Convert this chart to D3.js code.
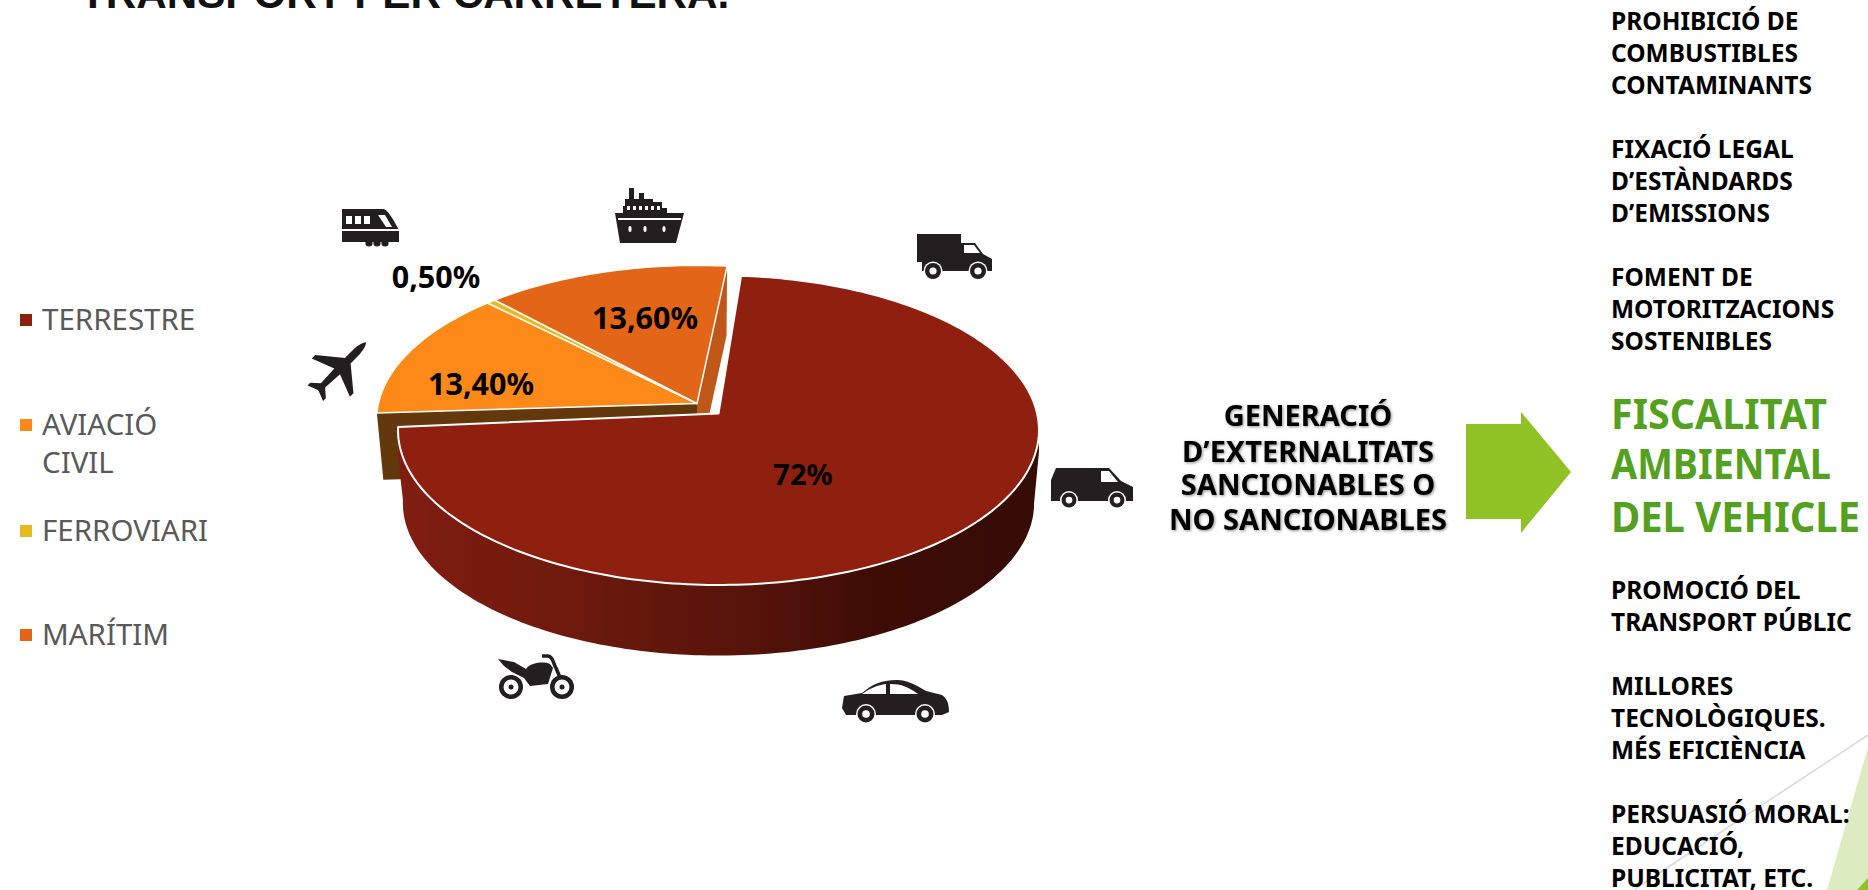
<!DOCTYPE html>
<html>
<head>
<meta charset="utf-8">
<script src="https://cdn.jsdelivr.net/npm/d3@7"></script>
<style>
  html, body { margin: 0; padding: 0; background: #fff; overflow: hidden; }
  svg { display: block; }
  text { font-family: "Noto Sans", sans-serif; }
</style>
</head>
<body>
<div id="chart"></div>
<script>
// Chart values
const categories = ["TERRESTRE", "AVIACIÓ CIVIL", "FERROVIARI", "MARÍTIM"];
const shares     = [72, 13.4, 0.5, 13.6];
const shareTexts = ["72%", "13,40%", "0,50%", "13,60%"];
const colors     = ["#8f2010", "#fd8a18", "#e6b91e", "#e36518"];

const title       = "TRANSPORT PER CARRETERA.";
const middleLines = ["GENERACIÓ", "D’EXTERNALITATS", "SANCIONABLES O", "NO SANCIONABLES"];
const greenLines  = ["FISCALITAT", "AMBIENTAL", "DEL VEHICLE"];
const topMeasures = ["PROHIBICIÓ DE", "COMBUSTIBLES", "CONTAMINANTS", "", "FIXACIÓ LEGAL", "D’ESTÀNDARDS", "D’EMISSIONS", "", "FOMENT DE", "MOTORITZACIONS", "SOSTENIBLES"];
const lowMeasures = ["PROMOCIÓ DEL", "TRANSPORT PÚBLIC", "", "MILLORES", "TECNOLÒGIQUES.", "MÉS EFICIÈNCIA", "", "PERSUASIÓ MORAL:", "EDUCACIÓ,", "PUBLICITAT, ETC."];

// Layout
const config = {
  width     : 1868,
  height    : 890,
  slantX    : 318.6,   // half width of the disc
  slantY    : 153,     // half depth of the disc at its centre line
  persp     : 0.1077,  // how much the far rim shrinks
  startDeg  : 4.5,
  restTurn  : 1.5,     // the three small slices are turned a bit more
  redCentre : [718.5, 413.5],
  restCentre: [697, 403.5],
  redDepth  : 73.5,
  restDepth : 67,
  baseScale : 0.985,
  ink       : "#231f20"
};
const labelSpots   = [[803, 485], [481, 395], [436, 288], [645, 329]];
const labelSizes   = [29, 30.5, 30.5, 30.5];
const legendBase   = [330, 435, 541, 645];
const legendExtra  = { 1: 473 };
const greenWidths  = [216, 220, 249];

const svg = d3.select("#chart")
  .append("svg")
    .attr("width", config.width)
    .attr("height", config.height)
    .attr("viewBox", "0 0 " + config.width + " " + config.height);

const defs = svg.append("defs");
const wallGradient = defs.append("linearGradient")
  .attr("id", "wall")
  .attr("gradientUnits", "userSpaceOnUse")
  .attr("x1", 400).attr("x2", 1038).attr("y1", 0).attr("y2", 0);
[[0, "#801d11"], [0.3, "#6b190c"], [0.55, "#56130a"], [0.75, "#3d0c05"], [1, "#360c06"]].forEach(function (s) {
  wallGradient.append("stop").attr("offset", s[0]).attr("stop-color", s[1]);
});

// Perspective view of a flat disc: angle clockwise from the far side, r in 0..1
function project(centre, angle, r, drop) {
  const u = r * Math.sin(angle);
  const v = -r * Math.cos(angle);
  const w = 1 - config.persp * v;
  return [
    centre[0] + config.slantX * u / w,
    centre[1] + config.slantY * v / w + (drop || 0)
  ];
}

function rim(centre, a0, a1, r, drop) {
  const n = Math.max(2, Math.ceil(Math.abs(a1 - a0) / 0.02));
  return d3.range(n + 1).map(function (i) {
    return project(centre, a0 + (a1 - a0) * i / n, r, drop);
  });
}

const rad  = Math.PI / 180;
const line = d3.line();
const arcs = d3.pie().sort(null)
  .startAngle(config.startDeg * rad)
  .endAngle((config.startDeg + 360) * rad)(shares);

// Back slices: cut faces first, then tops
const rest = arcs.slice(1).map(function (d) {
  return { index: d.index, a0: d.startAngle + config.restTurn * rad, a1: d.endAngle + config.restTurn * rad };
});
const first = rest[0], last = rest[rest.length - 1];

function cutFace(angle, fill) {
  const c = config.restCentre, dz = config.restDepth, s = 0.98;
  svg.append("path")
    .attr("d", line([project(c, angle, 1), project(c, angle, 0), project(c, angle, 0, dz), project(c, angle, s, dz)]) + "Z")
    .attr("fill", fill);
}
cutFace(first.a0, "#63380c");
cutFace(last.a1, "#bf5718");

svg.selectAll(".rest")
  .data(rest)
  .enter()
  .append("path")
    .attr("class", "rest")
    .attr("d", function (d) {
      return line([project(config.restCentre, 0, 0)].concat(rim(config.restCentre, d.a0, d.a1, 1))) + "Z";
    })
    .attr("fill", function (d) { return colors[d.index]; })
    .attr("stroke", "#fff")
    .attr("stroke-width", 1.5)
    .attr("stroke-linejoin", "round");

// The exploded big slice; its wall runs straight down a little before narrowing
const big = arcs[0];
const wallFrom = 96 * rad;
const wallTop = rim(config.redCentre, wallFrom, big.endAngle, 1);
const wallLow = rim(config.redCentre, wallFrom, big.endAngle, config.baseScale, config.redDepth).reverse();
svg.append("path")
  .attr("d", line(wallTop
    .concat([project(config.redCentre, big.endAngle, 1, 30)])
    .concat(wallLow)
    .concat([project(config.redCentre, wallFrom, 1, 22)])) + "Z")
  .attr("fill", "url(#wall)");

svg.append("path")
  .attr("d", line([project(config.redCentre, 0, 0)].concat(rim(config.redCentre, big.startAngle, big.endAngle, 1))) + "Z")
  .attr("fill", colors[0])
  .attr("stroke", "#fff")
  .attr("stroke-width", 2)
  .attr("stroke-linejoin", "round");

// Share labels
svg.selectAll(".share")
  .data(shareTexts)
  .enter()
  .append("text")
    .attr("class", "share")
    .attr("x", function (d, i) { return labelSpots[i][0]; })
    .attr("y", function (d, i) { return labelSpots[i][1]; })
    .attr("text-anchor", "middle")
    .attr("font-size", function (d, i) { return labelSizes[i]; })
    .attr("font-weight", 700)
    .attr("fill", "#000")
    .text(function (d) { return d; });

// Legend
const legend = svg.selectAll(".legend")
  .data(categories)
  .enter()
  .append("g")
    .attr("class", "legend");
legend.append("rect")
  .attr("x", 20)
  .attr("y", function (d, i) { return legendBase[i] - 16; })
  .attr("width", 12)
  .attr("height", 12)
  .attr("fill", function (d, i) { return colors[i]; });
legend.append("text")
  .attr("x", 42)
  .attr("y", function (d, i) { return legendBase[i]; })
  .attr("font-size", 29.5)
  .attr("fill", "#595959")
  .text(function (d, i) { return legendExtra[i] ? d.split(" ")[0] : d; });
legend.filter(function (d, i) { return legendExtra[i]; })
  .append("text")
  .attr("x", 42)
  .attr("y", legendExtra[1])
  .attr("font-size", 29.5)
  .attr("fill", "#595959")
  .text(function (d) { return d.split(" ")[1]; });

// Title, cut by the top of the page
svg.append("text")
  .attr("x", 80)
  .attr("y", 8)
  .attr("font-size", 42.2)
  .attr("font-weight", 700)
  .attr("fill", "#111")
  .style("font-family", "'Liberation Sans', sans-serif")
  .text(title);

// Middle text and arrow
svg.selectAll(".middle")
  .data(middleLines)
  .enter()
  .append("text")
    .attr("class", "middle")
    .attr("x", 1308)
    .attr("y", function (d, i) { return [426, 462, 495, 530][i]; })
    .attr("text-anchor", "middle")
    .attr("font-size", 29)
    .attr("font-weight", 700)
    .attr("fill", "#000")
    .style("filter", "drop-shadow(1.5px 1.5px 1.5px rgba(0,0,0,0.45))")
    .text(function (d) { return d; });

svg.append("path")
  .attr("d", "M1466 424H1521V412L1571 472L1521 533V519H1466Z")
  .attr("fill", "#90c226");

svg.selectAll(".green")
  .data(greenLines)
  .enter()
  .append("text")
    .attr("class", "green")
    .attr("x", 1611)
    .attr("y", function (d, i) { return [429, 479, 532][i]; })
    .attr("font-size", 42)
    .attr("font-weight", 700)
    .attr("textLength", function (d, i) { return greenWidths[i]; })
    .attr("lengthAdjust", "spacingAndGlyphs")
    .attr("fill", "#54a021")
    .text(function (d) { return d; });

// Corner decoration
svg.append("line")
  .attr("x1", 1868).attr("y1", 735).attr("x2", 1635).attr("y2", 889)
  .attr("stroke", "#d9d9d9").attr("stroke-width", 1.5);
svg.append("path").attr("d", "M1868 747L1827 890H1868Z").attr("fill", "#dcebc0");
svg.append("path").attr("d", "M1868 878L1857 890H1868Z").attr("fill", "#90c226");

// Measures, right column
function measures(lines, y0, step) {
  svg.append("g").selectAll("text")
    .data(lines)
    .enter()
    .append("text")
      .attr("x", 1611)
      .attr("y", function (d, i) { return y0 + i * step; })
      .attr("font-size", 24.5)
      .attr("font-weight", 700)
      .attr("fill", "#000")
      .text(function (d) { return d; });
}
measures(topMeasures, 30, 32);
measures(lowMeasures, 599, 32);

// Vehicle icons
function icon(x, y) {
  return svg.append("g").attr("transform", "translate(" + x + "," + y + ")").attr("fill", config.ink);
}
function wheel(g, x, y, r) {
  g.append("circle").attr("cx", x).attr("cy", y).attr("r", r + 1.5).attr("fill", "#fff");
  g.append("circle").attr("cx", x).attr("cy", y).attr("r", r);
  g.append("circle").attr("cx", x).attr("cy", y).attr("r", r * 0.45).attr("fill", "#fff");
}

const truck = icon(917, 234);
truck.append("path").attr("d", "M0 0H44V9H58L66 20L75 25V37H5V28H0Z");
truck.append("path").attr("d", "M47 11H57L63 19H47Z").attr("fill", "#fff");
wheel(truck, 16, 37, 8);
wheel(truck, 61, 37, 8);

const van = icon(1051, 468);
van.append("path").attr("d", "M5 0H58L70 13L82 19V33H0V12Z");
van.append("path").attr("d", "M50 3H58L67 14H50Z").attr("fill", "#fff");
wheel(van, 18, 32, 7.5);
wheel(van, 66, 32, 7.5);

const car = icon(842, 680);
car.append("path").attr("d", "M2 16L20 13C30 5 38 0 55 0C65 0 72 4 84 11L100 15C106 19 107 26 107 32L100 35H4L0 28Z");
car.append("path").attr("d", "M20 14C28 8 36 5 44 4V14Z").attr("fill", "#fff");
car.append("path").attr("d", "M48 4C60 4 66 7 76 14H48Z").attr("fill", "#fff");
wheel(car, 24, 34, 8.5);
wheel(car, 83, 34, 8.5);

const moto = icon(498, 654);
moto.append("path").attr("d", "M0 5L16 8L28 15C32 9 44 7 52 10L55 14L50 30L32 32L26 24L14 18L6 12Z");
moto.append("path").attr("d", "M44 2H50C56 3 55 10 58 14L66 33").attr("fill", "none").attr("stroke", config.ink).attr("stroke-width", 3.5);
[[13, 33], [64, 33]].forEach(function (p) {
  moto.append("circle").attr("cx", p[0]).attr("cy", p[1]).attr("r", 12);
  moto.append("circle").attr("cx", p[0]).attr("cy", p[1]).attr("r", 7.5).attr("fill", "#fff");
  moto.append("circle").attr("cx", p[0]).attr("cy", p[1]).attr("r", 2.5);
});

const train = icon(342, 209);
train.append("path").attr("d", "M0 0H42C48 3 54 16 57 21V33H0Z");
train.append("rect").attr("x", 0).attr("y", 20).attr("width", 57).attr("height", 2).attr("fill", "#fff");
[4, 13, 22].forEach(function (x) {
  train.append("rect").attr("x", x).attr("y", 7).attr("width", 6).attr("height", 8).attr("fill", "#fff");
});
train.append("path").attr("d", "M36 6H43L50 18H44Z").attr("fill", "#fff");
[27, 35, 43].forEach(function (x) {
  train.append("circle").attr("cx", x).attr("cy", 34).attr("r", 3.6);
});

const ship = icon(615, 188);
ship.append("path").attr("d", "M0 25H69L61 55H5Z");
ship.append("rect").attr("x", 3).attr("y", 30).attr("width", 63).attr("height", 2).attr("fill", "#fff");
ship.append("path").attr("d", "M8 25V18H10V11H14V0H19V11H24V5H29V11H38V14H47V20H52V25Z");
[12, 18, 24, 30, 36, 42].forEach(function (x) {
  ship.append("rect").attr("x", x).attr("y", 18).attr("width", 3).attr("height", 4).attr("fill", "#fff");
});
[15, 30, 49].forEach(function (x) {
  ship.append("ellipse").attr("cx", x).attr("cy", 41).attr("rx", 1.6).attr("ry", 3).attr("fill", "#fff");
});

svg.append("path")
  .attr("transform", "translate(340,368.5) rotate(45)")
  .attr("fill", config.ink)
  .attr("d", "M0 -37C3 -33 4 -28 4 -18V-11L27 8V13L4 4L3 24L11 31V35L1 31H-1L-11 35V31L-3 24L-4 4L-27 13V8L-4 -11V-18C-4 -28 -3 -33 0 -37Z");
</script>
</body>
</html>
